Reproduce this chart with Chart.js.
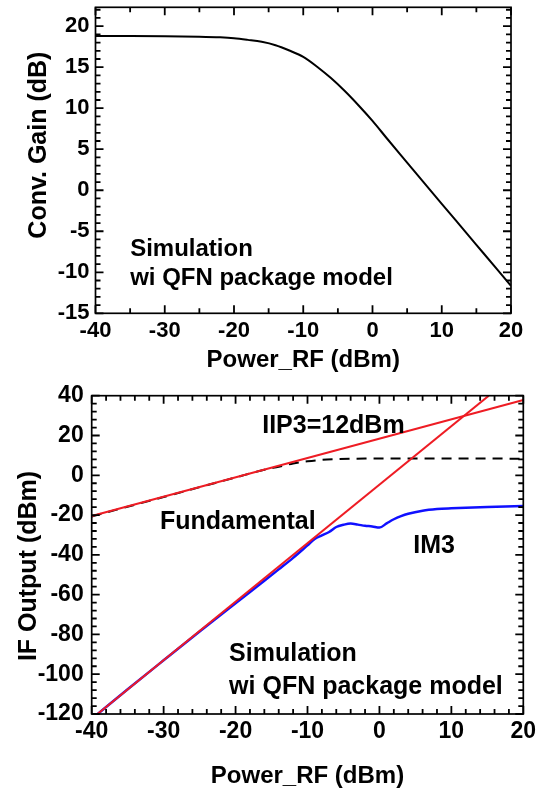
<!DOCTYPE html>
<html>
<head>
<meta charset="utf-8">
<script src="https://cdn.jsdelivr.net/npm/chart.js@4.4.1/dist/chart.umd.min.js"></script>
<style>
  html, body { margin: 0; padding: 0; background: #fff; overflow: hidden; }
  #top-box { position: absolute; left: 0; top: 0; width: 545px; height: 380px; }
  #bottom-box { position: absolute; left: 0; top: 380px; width: 545px; height: 425px; }
</style>
</head>
<body>
<div id="top-box"><canvas id="gain-chart"></canvas></div>
<div id="bottom-box"><canvas id="ip3-chart"></canvas></div>
<script>
// ---- data ----

// Conv. gain vs RF power (top)
var gainX  = [-40, -35, -30, -25, -22, -20, -18, -16, -14, -12, -10, -8, -6, -4, -2, 0, 2, 4, 6, 8, 10, 12, 14, 16, 18, 20];
var gainDb = [18.8, 18.8, 18.78, 18.72, 18.64, 18.53, 18.33, 18.09, 17.68, 17.03, 16.26, 15.06, 13.67, 12.09, 10.33, 8.45, 6.4, 4.37, 2.35, 0.35, -1.65, -3.65, -5.65, -7.65, -9.65, -11.65];

// IF output (bottom)
var fundX   = [-40, -30, -20, -16, -14, -12, -10, -8, -6, -4, -2, 0, 5, 10, 15, 20];
var fundOut = [-20.7, -10.9, -1.1, 2.8, 4.3, 5.9, 7.0, 7.75, 8.1, 8.3, 8.4, 8.4, 8.4, 8.4, 8.4, 8.3];

var im3X   = [-40, -35, -30, -25, -20, -16, -14, -12, -10, -9, -8, -7, -6, -5, -4, -3, -2, -1, 0, 1, 2, 3, 4, 6, 8, 10, 12, 15, 20];
var im3Out = [-122.5, -107.6, -93, -78.5, -64.3, -53, -47.3, -41.5, -35.2, -32.0, -30.2, -28.5, -26.0, -24.9, -24.3, -24.8, -25.4, -25.7, -26.3, -24.2, -22.1, -20.5, -19.3, -17.8, -17.0, -16.6, -16.3, -16.0, -15.5];

// extrapolated lines (endpoints)
var fundLineX = [-40, 20];
var fundLineY = [-20.5, 37.8];
var im3LineX  = [-39.2, 15.2];
var im3LineY  = [-120, 40];

// text notes
var topNotes    = ['Simulation', 'wi QFN package model'];
var topNotesX   = [-35, -35];
var topNotesY   = [-7.2, -10.8];
var bottomNotes  = ['IIP3=12dBm', 'Fundamental', 'IM3', 'Simulation', 'wi QFN package model'];
var bottomNotesX = [-16.3, -30.5, 4.7, -20.9, -20.9];
var bottomNotesY = [24.9, -23.7, -35.6, -89.9, -106.4];

// tick steps for the framed axes
var gainTicks = { xMinor: 5, xMajor: 10, yMinor: 1, yMajor: 5 };
var ip3Ticks  = { xMinor: 2, xMajor: 10, yMinor: 4, yMajor: 20 };

var FONT = '"Liberation Sans", Arial, sans-serif';

function pts(xs, ys) {
  return xs.map(function (x, i) { return { x: x, y: ys[i] }; });
}

function isMajor(v, step) {
  return Math.abs(v / step - Math.round(v / step)) < 1e-6;
}

// box around plot area + inward ticks on all 4 sides
function framePlugin(t, majorLen, minorLen) {
  return {
    id: 'frame',
    afterDraw: function (chart) {
      var ctx = chart.ctx, a = chart.chartArea, sx = chart.scales.x, sy = chart.scales.y;
      var i, v, p, len;
      ctx.save();
      ctx.strokeStyle = '#000';
      ctx.lineWidth = 1.8;
      var nx = Math.round((sx.max - sx.min) / t.xMinor);
      for (i = 0; i <= nx; i++) {
        v = sx.min + i * t.xMinor;
        p = sx.getPixelForValue(v);
        len = isMajor(v, t.xMajor) ? majorLen : minorLen;
        ctx.beginPath();
        ctx.moveTo(p, a.bottom); ctx.lineTo(p, a.bottom - len);
        ctx.moveTo(p, a.top); ctx.lineTo(p, a.top + len);
        ctx.stroke();
      }
      var y0 = Math.ceil(sy.min / t.yMinor) * t.yMinor;
      var ny = Math.floor((sy.max - y0) / t.yMinor + 1e-6);
      for (i = 0; i <= ny; i++) {
        v = y0 + i * t.yMinor;
        p = sy.getPixelForValue(v);
        len = isMajor(v, t.yMajor) ? majorLen : minorLen;
        ctx.beginPath();
        ctx.moveTo(a.left, p); ctx.lineTo(a.left + len, p);
        ctx.moveTo(a.right, p); ctx.lineTo(a.right - len, p);
        ctx.stroke();
      }
      ctx.lineWidth = 1.7;
      ctx.strokeRect(a.left, a.top, a.right - a.left, a.bottom - a.top);
      ctx.restore();
    }
  };
}

// text notes in data coordinates, plus the rotated y title
function notesPlugin(n) {
  return {
    id: 'notes',
    afterDraw: function (chart) {
      var ctx = chart.ctx, x = chart.scales.x, y = chart.scales.y;
      ctx.save();
      ctx.fillStyle = '#000';
      ctx.font = 'bold ' + n.size + 'px ' + FONT;
      ctx.textAlign = 'left';
      ctx.textBaseline = 'middle';
      n.text.forEach(function (t, i) {
        ctx.fillText(t, x.getPixelForValue(n.xs[i]), y.getPixelForValue(n.ys[i]));
      });
      // y axis title
      ctx.translate(n.titleLeft, y.getPixelForValue(n.titleAt));
      ctx.rotate(-Math.PI / 2);
      ctx.textAlign = 'center';
      ctx.font = 'bold ' + n.titleSize + 'px ' + FONT;
      ctx.fillText(n.title, 0, 0);
      ctx.restore();
    }
  };
}

function boldFont(size) { return { family: FONT, size: size, weight: 'bold' }; }
function noPad(s) { s.paddingTop = 0; s.paddingBottom = 0; s.paddingLeft = 0; s.paddingRight = 0; }

// ========================================
// ===        Conv. gain chart          ===
var gainChart = new Chart(document.getElementById('gain-chart').getContext('2d'), {
  type: 'line',
  data: {
    datasets: [{
      data: pts(gainX, gainDb),
      borderColor: '#000',
      borderWidth: 2,
      pointRadius: 0,
      cubicInterpolationMode: 'monotone'
    }]
  },
  options: {
    responsive: true,
    maintainAspectRatio: false,
    animation: false,
    layout: { padding: { left: 0, top: 7.3, right: 34, bottom: 0 } },
    plugins: { legend: { display: false }, tooltip: { enabled: false } },
    scales: {
      x: {
        type: 'linear', min: -40, max: 20,
        afterFit: function (s) { s.height = 66.7; noPad(s); },
        grid: { display: false, drawTicks: false },
        border: { display: false },
        ticks: { stepSize: 10, color: '#000', font: boldFont(22), padding: 4, maxRotation: 0 },
        title: { display: true, text: 'Power_RF (dBm)', color: '#000', font: boldFont(24), padding: { top: 0, bottom: 5 } }
      },
      y: {
        type: 'linear', min: -15, max: 22.3,
        afterFit: function (s) { s.width = 95.5; noPad(s); },
        grid: { display: false, drawTicks: false },
        border: { display: false },
        ticks: { stepSize: 5, includeBounds: false, color: '#000', font: boldFont(22), padding: 6 }
      }
    }
  },
  plugins: [
    framePlugin(gainTicks, 8, 5),
    notesPlugin({ text: topNotes, xs: topNotesX, ys: topNotesY, size: 24,
                  title: 'Conv. Gain (dB)', titleSize: 25, titleLeft: 39, titleAt: 5.5 })
  ]
});

// ========================================
// ===        IF output / IIP3          ===
var ip3Chart = new Chart(document.getElementById('ip3-chart').getContext('2d'), {
  type: 'line',
  data: {
    datasets: [
      { data: pts(fundLineX, fundLineY), borderColor: '#ee1c24', borderWidth: 2, pointRadius: 0, order: 0 },
      { data: pts(im3LineX, im3LineY), borderColor: '#ee1c24', borderWidth: 2, pointRadius: 0, order: 0 },
      { data: pts(fundX, fundOut), borderColor: '#000', borderWidth: 2, borderDash: [10, 7], pointRadius: 0, cubicInterpolationMode: 'monotone', order: 1 },
      { data: pts(im3X, im3Out), borderColor: '#1010ff', borderWidth: 2.5, pointRadius: 0, cubicInterpolationMode: 'monotone', order: 1 }
    ]
  },
  options: {
    responsive: true,
    maintainAspectRatio: false,
    animation: false,
    layout: { padding: { left: 0, top: 15.7, right: 21.7, bottom: 0 } },
    plugins: { legend: { display: false }, tooltip: { enabled: false } },
    scales: {
      x: {
        type: 'linear', min: -40, max: 20,
        afterFit: function (s) { s.height = 91; noPad(s); },
        grid: { display: false, drawTicks: false },
        border: { display: false },
        ticks: { stepSize: 10, color: '#000', font: boldFont(23), padding: 3.5, maxRotation: 0 },
        title: { display: true, text: 'Power_RF (dBm)', color: '#000', font: boldFont(24), padding: { top: 0, bottom: 14.6 } }
      },
      y: {
        type: 'linear', min: -120, max: 40,
        afterFit: function (s) { s.width = 91.7; noPad(s); },
        grid: { display: false, drawTicks: false },
        border: { display: false },
        ticks: { stepSize: 20, color: '#000', font: boldFont(23), padding: 8 }
      }
    }
  },
  plugins: [
    framePlugin(ip3Ticks, 8, 5),
    notesPlugin({ text: bottomNotes, xs: bottomNotesX, ys: bottomNotesY, size: 25,
                  title: 'IF Output (dBm)', titleSize: 25, titleLeft: 29, titleAt: -45.6 })
  ]
});
</script>
</body>
</html>
